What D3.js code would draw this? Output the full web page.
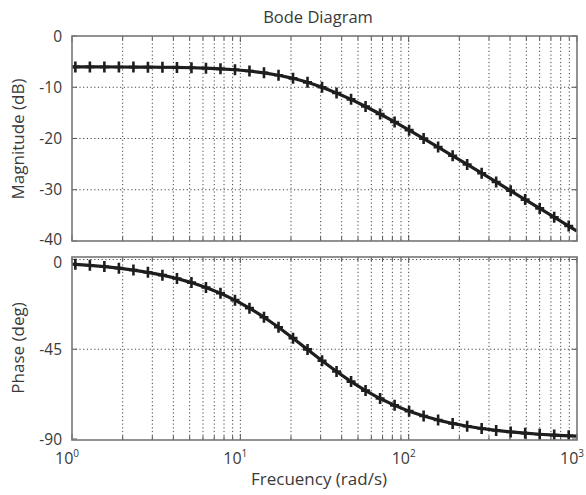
<!DOCTYPE html>
<html><head><meta charset="utf-8">
<script src="https://cdn.jsdelivr.net/npm/d3@7"></script>
<style>
html,body{margin:0;padding:0;background:#fff;}
text{font-family:"Open Sans","DejaVu Sans",sans-serif;fill:#3a3a3a;}
</style></head>
<body><div id="chart"></div>
<script>
// Frequencies (rad/s): first and last are curve endpoints, the rest carry "+" markers
const freq = [1, 1.047, 1.277, 1.557, 1.899, 2.317, 2.825, 3.445, 4.202, 5.124, 6.249, 7.621, 9.294, 11.33, 13.82, 16.86, 20.56, 25.07, 30.58, 37.29, 45.48, 55.46, 67.64, 82.49, 100.6, 122.7, 149.6, 182.5, 222.6, 271.4, 331.0, 403.6, 492.2, 600.3, 732.1, 892.8, 1000];
const magnitude = [-6.03, -6.03, -6.03, -6.04, -6.05, -6.06, -6.08, -6.10, -6.14, -6.20, -6.28, -6.41, -6.58, -6.83, -7.18, -7.65, -8.26, -9.04, -9.99, -11.11, -12.36, -13.75, -15.22, -16.77, -18.37, -20.02, -21.68, -23.37, -25.06, -26.77, -28.48, -30.20, -31.92, -33.64, -35.36, -37.08, -38.06];
const phase = [-2.29, -2.40, -2.92, -3.56, -4.34, -5.30, -6.45, -7.85, -9.54, -11.58, -14.04, -16.95, -20.39, -24.39, -28.94, -34.00, -39.44, -45.08, -50.73, -56.16, -61.21, -65.74, -69.72, -73.14, -76.04, -78.48, -80.51, -82.20, -83.59, -84.74, -85.68, -86.46, -87.09, -87.61, -88.04, -88.40, -88.57];
const magTicks = [0, -10, -20, -30, -40];
const phaseTicks = [0, -45, -90];
const freqMajor = [1, 10, 100, 1000];
const freqMajorExp = ["0", "1", "2", "3"];
const title = "Bode Diagram";
const magLabel = "Magnitude (dB)";
const phaseLabel = "Phase (deg)";
const xLabel = "Frecuency (rad/s)";

const W = 586, H = 495;
const svg = d3.select("#chart").append("svg").attr("width", W).attr("height", H);

const L = 72, R = 577;
const x = d3.scaleLog().domain([1, 1000]).range([L, R]);
const yM = d3.scaleLinear().domain([-40, 0]).range([241, 36]);
const yP = d3.scaleLinear().domain([-90.5, 1.25]).range([440, 257]);

const minor = [];
for (let d = 1; d < 1000; d *= 10) for (let m = 2; m <= 9; m++) minor.push(d * m);
const allX = freqMajor.concat(minor);

const data = freq.map((f, i) => ({f, m: magnitude[i], p: phase[i]}));
const markers = data.slice(1, data.length - 1);

function panel(y, ticks, key, id, labelShift) {
  const [y0, y1] = [y.range()[1], y.range()[0]];
  const g = svg.append("g");
  g.append("rect").attr("x", L).attr("y", y0).attr("width", R - L).attr("height", y1 - y0).attr("fill", "#fff");
  g.selectAll(".vg").data(allX.filter(v => v > 1 && v < 1000)).join("line")
    .attr("x1", d => x(d)).attr("x2", d => x(d)).attr("y1", y0).attr("y2", y1)
    .attr("stroke", "#444").attr("stroke-width", 1).attr("stroke-dasharray", "1.2,2.5");
  g.selectAll(".hg").data(ticks.filter(v => y(v) > y0 + 2 && y(v) < y1 - 2)).join("line")
    .attr("x1", L).attr("x2", R).attr("y1", d => y(d)).attr("y2", d => y(d))
    .attr("stroke", "#444").attr("stroke-width", 1).attr("stroke-dasharray", "1.2,2.5");
  g.selectAll(".xt").data(allX).join("line")
    .attr("x1", d => x(d)).attr("x2", d => x(d)).attr("y1", y1).attr("y2", d => y1 - (freqMajor.includes(d) ? 6 : 4))
    .attr("stroke", "#555").attr("stroke-width", 1);
  g.selectAll(".xt2").data(allX).join("line")
    .attr("x1", d => x(d)).attr("x2", d => x(d)).attr("y1", y0).attr("y2", d => y0 + (freqMajor.includes(d) ? 6 : 4))
    .attr("stroke", "#555").attr("stroke-width", 1);
  g.selectAll(".yt").data(ticks).join("line")
    .attr("x1", L).attr("x2", L + 5).attr("y1", d => y(d)).attr("y2", d => y(d)).attr("stroke", "#555");
  g.selectAll(".yt2").data(ticks).join("line")
    .attr("x1", R).attr("x2", R - 5).attr("y1", d => y(d)).attr("y2", d => y(d)).attr("stroke", "#555");
  g.selectAll(".yl").data(ticks).join("text")
    .attr("x", 62).attr("y", d => y(d) + labelShift(d)).attr("dy", "0.36em").attr("text-anchor", "end")
    .attr("font-size", 15.5).text(d => d);
  svg.append("clipPath").attr("id", id).append("rect")
    .attr("x", L).attr("y", y0).attr("width", R - L).attr("height", y1 - y0);
  const c = svg.append("g").attr("clip-path", `url(#${id})`);
  const line = d3.line().x(d => x(d.f)).y(d => y(d[key]));
  c.append("path").datum(data).attr("d", line).attr("fill", "none")
    .attr("stroke", "#1e1e1e").attr("stroke-width", 3.2).attr("stroke-linejoin", "round");
  c.selectAll(".mk").data(markers).join("path")
    .attr("transform", d => `translate(${x(d.f)},${y(d[key])})`)
    .attr("d", "M-4.5,0H4.5M0,-5.5V5.5")
    .attr("stroke", "#1e1e1e").attr("stroke-width", 2.6).attr("fill", "none");
  svg.append("rect").attr("x", L).attr("y", y0).attr("width", R - L).attr("height", y1 - y0)
    .attr("fill", "none").attr("stroke", "#777").attr("stroke-width", 1.6);
}

panel(yM, magTicks, "m", "clipM", d => d === -40 ? -2 : 0);
panel(yP, phaseTicks, "p", "clipP", d => d === 0 ? 2.5 : 0);

const xl = svg.selectAll(".xl").data(freqMajor).join("text")
  .attr("x", d => x(d) - 5).attr("y", 464).attr("text-anchor", "middle").attr("font-size", 16);
xl.append("tspan").text("10");
xl.append("tspan").attr("dy", -7).attr("font-size", 10).text((d, i) => freqMajorExp[i]);

svg.append("text").attr("x", 318).attr("y", 23).attr("text-anchor", "middle").attr("font-size", 16.5).text(title);
svg.append("text").attr("x", 319).attr("y", 485).attr("text-anchor", "middle").attr("font-size", 17).text(xLabel);
svg.append("text").attr("transform", "translate(24,139) rotate(-90)").attr("text-anchor", "middle").attr("font-size", 17).text(magLabel);
svg.append("text").attr("transform", "translate(24,348) rotate(-90)").attr("text-anchor", "middle").attr("font-size", 17).text(phaseLabel);
</script></body></html>
